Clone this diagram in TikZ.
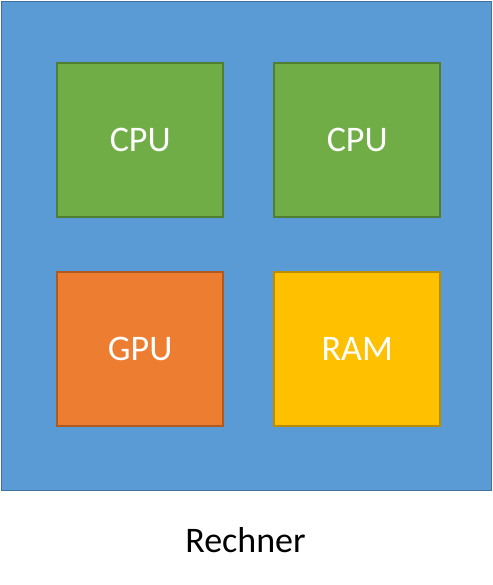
\documentclass[tikz,border=0pt]{standalone}
\usepackage{fontspec}
\setmainfont{Carlito}
\definecolor{bluefill}{HTML}{5B9BD5}
\definecolor{blueline}{HTML}{41719C}
\definecolor{greenfill}{HTML}{70AD47}
\definecolor{greenline}{HTML}{507E32}
\definecolor{orangefill}{HTML}{ED7D31}
\definecolor{orangeline}{HTML}{AE5A21}
\definecolor{yellowfill}{HTML}{FFC000}
\definecolor{yellowline}{HTML}{BC8C00}
\begin{document}
\begin{tikzpicture}[x=1pt,y=-1pt,
  comp/.style={minimum width=166pt,minimum height=154pt,line width=1.6pt,inner sep=0pt,text=white,font=\fontsize{36}{40}\selectfont,anchor=north west},
  cpu/.style={comp,fill=greenfill,draw=greenline},
  gpu/.style={comp,fill=orangefill,draw=orangeline},
  ram/.style={comp,fill=yellowfill,draw=yellowline}]
\useasboundingbox (0,0) rectangle (492,585);
\node[draw=blueline,fill=bluefill,line width=1.6pt,minimum width=490pt,minimum height=489pt,inner sep=0pt,anchor=north west] (rechner) at (0.6,0.6) {};
\node[cpu] (cpu1) at (56.4,62.4) {CPU};
\node[cpu] (cpu2) at (273.4,62.4) {CPU};
\node[gpu] (gpu) at (56.4,271.4) {GPU};
\node[ram] (ram) at (273.4,271.4) {RAM};
\node[font=\fontsize{36}{40}\selectfont] (label) at (245.5,540) {Rechner};
\end{tikzpicture}
\end{document}
